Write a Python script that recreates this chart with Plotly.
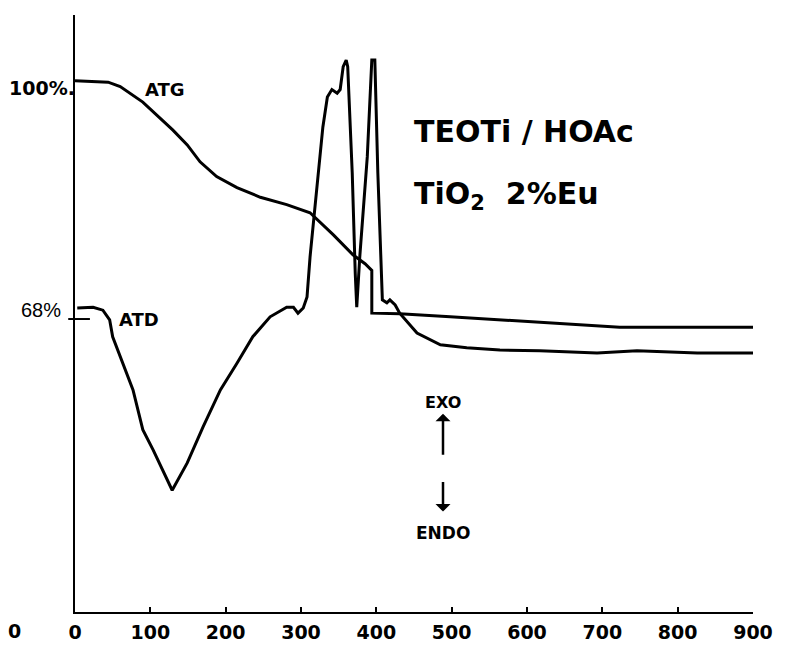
import plotly.graph_objects as go

# Temperature (°C) and mass (%) for ATG
atg_temp = [0, 44, 60, 90, 130, 149, 166, 188, 215, 246, 281, 312, 343, 369, 385, 392, 394, 394,
            431, 498, 564, 604, 670, 723, 900]
atg_mass = [100.3, 100.1, 99.5, 97.4, 93.6, 91.6, 89.3, 87.3, 85.8, 84.5, 83.5, 82.4, 79.4, 76.7,
            75.5, 74.9, 74.6, 68.8, 68.7, 68.3, 67.9, 67.6, 67.3, 66.9, 66.9]

# Temperature (°C) and DTA signal (arbitrary, same scale) for ATD
atd_temp = [3, 24, 37, 46, 50, 64, 77, 90, 104, 129, 149, 170, 193, 215, 236, 259, 281, 290, 296,
            303, 308, 312, 321, 329, 335, 341, 348, 352, 356, 360, 362, 368, 372, 374, 378, 388,
            394, 398, 402, 408, 414, 418, 425, 431, 454, 485, 520, 564, 617, 693, 746, 826, 900]
atd_signal = [69.5, 69.6, 69.2, 67.9, 65.6, 62.0, 58.4, 53.0, 50.2, 44.8, 48.5, 53.4, 58.4, 62.0,
              65.6, 68.3, 69.6, 69.6, 68.8, 69.5, 71.0, 76.4, 85.5, 94.0, 98.1, 99.1, 98.6, 99.1,
              102.2, 103.1, 102.2, 87.8, 74.2, 69.6, 76.4, 90.0, 103.1, 103.1, 87.8, 70.6, 70.2,
              70.6, 69.9, 68.8, 66.1, 64.5, 64.1, 63.8, 63.7, 63.4, 63.7, 63.4, 63.4]

x_ticks = [0, 100, 200, 300, 400, 500, 600, 700, 800, 900]
x_tick_labels = [str(v) for v in x_ticks]

fig = go.Figure()
fig.add_trace(go.Scatter(x=atg_temp, y=atg_mass, mode="lines", name="ATG",
                         line=dict(color="black", width=3), showlegend=False))
fig.add_trace(go.Scatter(x=atd_temp, y=atd_signal, mode="lines", name="ATD",
                         line=dict(color="black", width=3), showlegend=False))

bold = dict(family="DejaVu Sans", color="black", weight="bold")

fig.update_xaxes(range=[0, 900], tickvals=x_ticks, ticktext=x_tick_labels,
                 showline=True, linecolor="black", linewidth=2, mirror=False,
                 ticks="inside", ticklen=5, tickwidth=2, tickcolor="black",
                 showgrid=False, zeroline=False, automargin=False,
                 tickfont=dict(size=19, **bold), ticklabelstandoff=2)
fig.update_yaxes(range=[28.3, 109.2], showline=True, linecolor="black", linewidth=2,
                 showticklabels=False, ticks="", showgrid=False, zeroline=False,
                 automargin=False)

annotations = [
    dict(x=0, y=99.3, text="100%.", showarrow=False, xanchor="right", yanchor="middle",
         xshift=2, font=dict(size=19, **bold)),
    dict(x=0, y=69.2, text="68%", showarrow=False, xanchor="right", yanchor="middle",
         xshift=-12, font=dict(size=20, family="Liberation Sans", color="black")),
    dict(x=90, y=99.05, text="ATG", showarrow=False, xanchor="left", yanchor="middle",
         font=dict(size=18, **bold)),
    dict(x=56, y=68, text="ATD", showarrow=False, xanchor="left", yanchor="middle",
         font=dict(size=18, **bold)),
    dict(x=447, y=93.4, text="TEOTi / HOAc", showarrow=False, xanchor="left", yanchor="middle",
         font=dict(size=30, **bold)),
    dict(x=447, y=84.7, text="TiO<sub>2</sub>  2%Eu", showarrow=False, xanchor="left",
         yanchor="middle", font=dict(size=30, **bold)),
    dict(x=488.5, y=49.6, ax=0, ay=-52, text="EXO", showarrow=True, arrowside="start",
         arrowhead=2, arrowsize=1.5, arrowwidth=2.5, arrowcolor="black",
         font=dict(size=16, **bold)),
    dict(x=488.5, y=45.9, ax=0, ay=51, text="ENDO", showarrow=True, arrowside="start",
         arrowhead=2, arrowsize=1.5, arrowwidth=2.5, arrowcolor="black", startstandoff=10,
         font=dict(size=17, **bold)),
    dict(x=-0.0885, y=-0.032, xref="paper", yref="paper", text="0", showarrow=False,
         xanchor="center", yanchor="middle", font=dict(size=19, **bold)),
]

fig.add_shape(type="line", xref="paper", yref="y", x0=-0.01, x1=0.022, y0=68, y1=68,
              line=dict(color="black", width=2))

fig.update_layout(width=771, height=636, margin=dict(l=67, r=26, t=7, b=32),
                  paper_bgcolor="white", plot_bgcolor="white", annotations=annotations,
                  showlegend=False)

fig.write_html("out.html")
